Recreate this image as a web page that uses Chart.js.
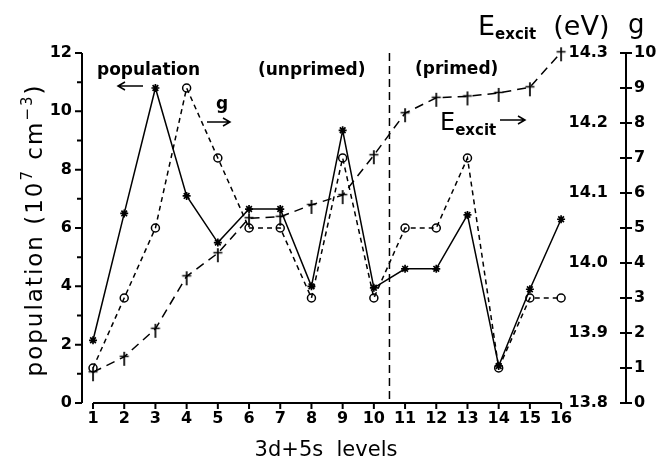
<!DOCTYPE html>
<html>
<head>
<meta charset="utf-8">
<script src="https://cdn.jsdelivr.net/npm/chart.js@4.4.1/dist/chart.umd.min.js"></script>
<style>
  body { margin: 0; background: #fff; }
  #wrap { width: 671px; height: 461px; }
</style>
</head>
<body>
<div id="wrap"><canvas id="chart"></canvas></div>
<script>
// values
const levels = [1, 2, 3, 4, 5, 6, 7, 8, 9, 10, 11, 12, 13, 14, 15, 16];
const population = [2.15, 6.5, 10.8, 7.1, 5.5, 6.65, 6.65, 4.0, 9.35, 3.95, 4.6, 4.6, 6.45, 1.27, 3.9, 6.3];
const gValues = [1, 3, 5, 9, 7, 5, 5, 3, 7, 3, 5, 5, 7, 1, 3, 3];
const eExcit = [13.844, 13.866, 13.906, 13.981, 14.014, 14.064, 14.066, 14.083, 14.097, 14.154, 14.214, 14.236, 14.238, 14.243, 14.251, 14.301];
const popTicks = [0, 2, 4, 6, 8, 10, 12];
const eTicks = [13.8, 13.9, 14.0, 14.1, 14.2, 14.3];
const gTicks = [0, 1, 2, 3, 4, 5, 6, 7, 8, 9, 10];
const divider = 10.5; // unprimed | primed

const FONT = '"DejaVu Sans", sans-serif';

function makeDagger() {
  const c = document.createElement('canvas');
  c.width = 12; c.height = 20;
  const cx = c.getContext('2d');
  cx.strokeStyle = '#000';
  cx.lineWidth = 1.7;
  cx.beginPath();
  cx.moveTo(6, 5); cx.lineTo(6, 19);
  cx.moveTo(1.5, 9.5); cx.lineTo(10.5, 9.5);
  cx.stroke();
  return c;
}

function pts(vals) {
  return levels.map((l, i) => ({ x: l, y: vals[i] }));
}

// draws a run of text pieces (font, text, dy) starting at x
function drawRun(ctx, pieces, x, y, align) {
  let total = 0;
  pieces.forEach(p => { ctx.font = p.font; total += ctx.measureText(p.t).width; });
  let cx = align === 'center' ? x - total / 2 : x;
  ctx.textAlign = 'left';
  pieces.forEach(p => {
    ctx.font = p.font;
    ctx.fillText(p.t, cx, y + (p.dy || 0));
    cx += ctx.measureText(p.t).width;
  });
}

function arrow(ctx, x1, y, x2) {
  const d = Math.sign(x2 - x1);
  ctx.beginPath();
  ctx.moveTo(x1, y); ctx.lineTo(x2, y);
  ctx.moveTo(x2 - d * 7, y - 4); ctx.lineTo(x2, y); ctx.lineTo(x2 - d * 7, y + 4);
  ctx.stroke();
}

const divPlugin = {
  id: 'divider',
  beforeDatasetsDraw(chart) {
    const ctx = chart.ctx, a = chart.chartArea;
    const px = chart.scales.x.getPixelForValue(divider);
    ctx.save();
    ctx.strokeStyle = '#000';
    ctx.lineWidth = 1.5;
    ctx.setLineDash([8, 5]);
    ctx.beginPath();
    ctx.moveTo(px, a.top); ctx.lineTo(px, a.bottom);
    ctx.stroke();
    ctx.restore();
  }
};

const axesPlugin = {
  id: 'axes',
  afterDraw(chart) {
    const ctx = chart.ctx, a = chart.chartArea;
    const xs = chart.scales.x, ys = chart.scales.y, gs = chart.scales.g, es = chart.scales.e;
    ctx.save();
    ctx.strokeStyle = '#000';
    ctx.fillStyle = '#000';
    ctx.lineWidth = 2;

    // left axis
    ctx.beginPath();
    ctx.moveTo(a.left, a.top); ctx.lineTo(a.left, a.bottom);
    for (let v = 0; v <= 12; v++) {
      const py = ys.getPixelForValue(v);
      ctx.moveTo(a.left, py); ctx.lineTo(a.left - (v % 2 ? 5 : 7), py);
    }
    ctx.stroke();
    ctx.font = 'bold 16px ' + FONT;
    ctx.textAlign = 'right';
    ctx.textBaseline = 'middle';
    popTicks.forEach(v => ctx.fillText(String(v), a.left - 10, ys.getPixelForValue(v)));

    // bottom axis, only from level 1 to 16
    ctx.beginPath();
    ctx.moveTo(xs.getPixelForValue(levels[0]), a.bottom);
    ctx.lineTo(xs.getPixelForValue(levels[levels.length - 1]), a.bottom);
    levels.forEach(l => {
      const px = xs.getPixelForValue(l);
      ctx.moveTo(px, a.bottom); ctx.lineTo(px, a.bottom + 6);
    });
    ctx.stroke();
    ctx.textAlign = 'center';
    levels.forEach(l => ctx.fillText(String(l), xs.getPixelForValue(l), a.bottom + 16));

    // right axis: E_excit labels inside, g labels outside
    ctx.beginPath();
    ctx.moveTo(a.right, a.top); ctx.lineTo(a.right, a.bottom);
    gTicks.forEach(v => {
      const py = gs.getPixelForValue(v);
      ctx.moveTo(a.right - 6, py); ctx.lineTo(a.right + 6, py);
    });
    ctx.stroke();
    ctx.textAlign = 'left';
    gTicks.forEach(v => ctx.fillText(String(v), a.right + 8, gs.getPixelForValue(v)));
    ctx.textAlign = 'right';
    eTicks.forEach(v => ctx.fillText(v.toFixed(1), a.right - 18, es.getPixelForValue(v)));

    // axis titles
    ctx.textBaseline = 'alphabetic';
    const big = '23px ' + FONT, sup = '15px ' + FONT;
    ctx.save();
    ctx.translate(42, 230);
    ctx.rotate(-Math.PI / 2);
    ctx.letterSpacing = '2px';
    drawRun(ctx, [
      { font: big, t: 'population (10' },
      { font: sup, t: '7', dy: -10 },
      { font: big, t: ' cm' },
      { font: sup, t: '\u22123', dy: -10 },
      { font: big, t: ')' }
    ], 0, 0, 'center');
    ctx.restore();

    ctx.font = '21px ' + FONT;
    ctx.textAlign = 'center';
    ctx.fillText('3d+5s  levels', 326, 456);

    drawRun(ctx, [
      { font: '27px ' + FONT, t: 'E' },
      { font: 'bold 15px ' + FONT, t: 'excit', dy: 4 },
      { font: '27px ' + FONT, t: '  (eV)' }
    ], 478, 35, 'left');
    ctx.font = '26px ' + FONT;
    ctx.textAlign = 'left';
    ctx.fillText('g', 628, 33);

    // in-plot annotations
    const ann = 'bold 17px ' + FONT;
    ctx.font = ann;
    ctx.textAlign = 'left';
    ctx.fillText('population', 97, 75);
    ctx.fillText('(unprimed)', 258, 75);
    ctx.fillText('(primed)', 415, 74);
    ctx.fillText('g', 216, 109);
    drawRun(ctx, [
      { font: '24px ' + FONT, t: 'E' },
      { font: 'bold 15px ' + FONT, t: 'excit', dy: 5 }
    ], 440, 130, 'left');

    ctx.lineWidth = 1.5;
    arrow(ctx, 143, 86, 118);
    arrow(ctx, 207, 122, 230);
    arrow(ctx, 500, 120, 525);
    ctx.restore();
  }
};

new Chart(document.getElementById('chart'), {
  type: 'line',
  data: {
    datasets: [
      {
        label: 'population',
        data: pts(population),
        yAxisID: 'y',
        borderColor: '#000',
        borderWidth: 1.5,
        pointStyle: 'star',
        pointRadius: 4,
        pointBorderWidth: 1.7,
        pointBorderColor: '#000',
        clip: false
      },
      {
        label: 'g',
        data: pts(gValues),
        yAxisID: 'g',
        borderColor: '#000',
        borderWidth: 1.5,
        borderDash: [5, 4],
        pointStyle: 'circle',
        pointRadius: 4,
        pointBorderWidth: 1.5,
        pointBorderColor: '#000',
        pointBackgroundColor: 'rgba(255,255,255,0)',
        clip: false
      },
      {
        label: 'E excit',
        data: pts(eExcit),
        yAxisID: 'e',
        borderColor: '#000',
        borderWidth: 1.5,
        borderDash: [9, 6],
        pointStyle: makeDagger(),
        pointRadius: 6,
        clip: false
      }
    ]
  },
  options: {
    responsive: true,
    maintainAspectRatio: false,
    animation: false,
    layout: { padding: { left: 82, right: 45, top: 53, bottom: 58 } },
    plugins: { legend: { display: false }, tooltip: { enabled: false } },
    elements: { line: { tension: 0 } },
    scales: {
      x: { type: 'linear', min: 0.647, max: 18.08, display: false },
      y: { min: 0, max: 12, display: false },
      g: { min: 0, max: 10, display: false },
      e: { min: 13.8, max: 14.3, display: false }
    }
  },
  plugins: [divPlugin, axesPlugin]
});
</script>
</body>
</html>
